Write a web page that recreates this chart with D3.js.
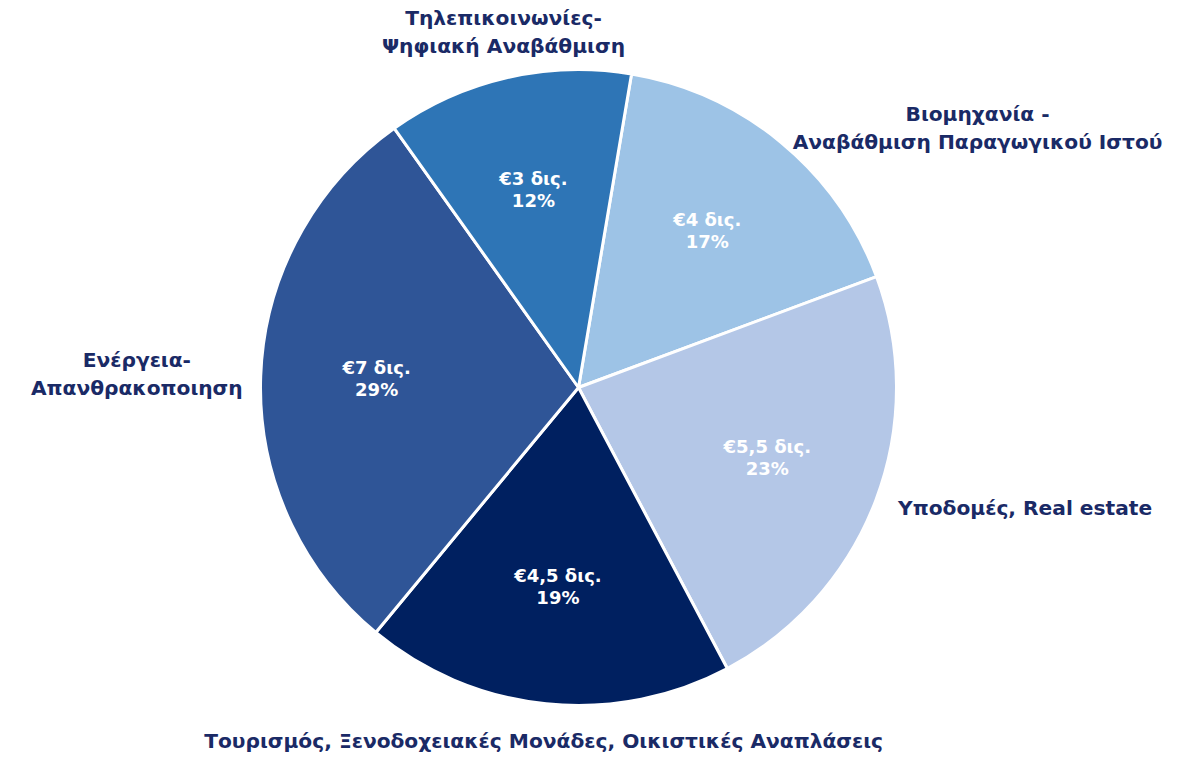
<!DOCTYPE html>
<html>
<head>
<meta charset="utf-8">
<script src="https://cdn.jsdelivr.net/npm/d3@7"></script>
<style>
  body { margin: 0; background: #fff; }
  text { font-family: "DejaVu Sans", "Noto Sans", sans-serif; font-weight: bold; }
</style>
</head>
<body>
<div id="chart"></div>
<script>
// sectors, clockwise from the top
const sectors = [
    ["Βιομηχανία -", "Αναβάθμιση Παραγωγικού Ιστού"],
    ["Υποδομές, Real estate"],
    ["Τουρισμός, Ξενοδοχειακές Μονάδες, Οικιστικές Αναπλάσεις"],
    ["Ενέργεια-", "Απανθρακοποιηση"],
    ["Τηλεπικοινωνίες-", "Ψηφιακή Αναβάθμιση"]
];
const amounts = ["€4 δις.", "€5,5 δις.", "€4,5 δις.", "€7 δις.", "€3 δις."];
const values = [4, 5.5, 4.5, 7, 3];
const percents = ["17%", "23%", "19%", "29%", "12%"];
const colors = ["#9dc3e6", "#b4c7e7", "#002060", "#2f5597", "#2e75b6"];

const width = 1197, height = 760;
const cx = 578.5, cy = 387.5, R = 318;
const labelColor = "#1a2a66";

const svg = d3.select("#chart").append("svg")
    .attr("width", width)
    .attr("height", height);

const g = svg.append("g").attr("transform", "translate(" + cx + "," + cy + ")");

const startA = 9.6 * Math.PI / 180;
const pie = d3.pie()
    .sort(null)
    .startAngle(startA)
    .endAngle(startA + 2 * Math.PI);

const arcs = pie(values);
const arc = d3.arc().innerRadius(0).outerRadius(R);
const inner = d3.arc().innerRadius(202).outerRadius(202);

g.selectAll("path.slice")
    .data(arcs)
    .enter().append("path")
    .attr("class", "slice")
    .attr("d", arc)
    .attr("fill", (d, i) => colors[i])
    .attr("stroke", "#fff")
    .attr("stroke-width", 3)
    .attr("stroke-linejoin", "round");

// values inside the slices
const vl = g.selectAll("text.val")
    .data(arcs)
    .enter().append("text")
    .attr("class", "val")
    .attr("text-anchor", "middle")
    .attr("fill", "#fff")
    .attr("font-size", 18)
    .attr("transform", d => "translate(" + inner.centroid(d) + ")");
vl.append("tspan").attr("x", 0).attr("y", -6).text((d, i) => amounts[i]);
vl.append("tspan").attr("x", 0).attr("y", 16).text((d, i) => percents[i]);

// category labels outside
const lineH = 28;
arcs.forEach((d, i) => {
    const mid = (d.startAngle + d.endAngle) / 2;
    const sx = Math.sin(mid), sy = -Math.cos(mid);
    const side = Math.abs(sy) <= 0.9;
    const off = sy > 0 ? 24 : 18;
    const px = (R + off) * sx, py = (R + off) * sy;
    const lines = sectors[i];

    const t = g.append("text")
        .attr("text-anchor", "middle")
        .attr("fill", labelColor)
        .attr("font-size", 20.2);
    lines.forEach((l, j) => t.append("tspan").attr("x", 0).attr("dy", j ? lineH : 0).text(l));

    const bw = d3.max(t.selectAll("tspan").nodes(), n => n.getComputedTextLength());
    const bh = lineH * lines.length;
    let bx = px, by = py;
    if (side) bx = px + Math.sign(sx) * bw / 2;
    else by = py + sy * bh / 2;
    const base = by - bh / 2 + lineH * 0.72;
    t.attr("transform", "translate(" + bx + "," + base + ")");
});
</script>
</body>
</html>
